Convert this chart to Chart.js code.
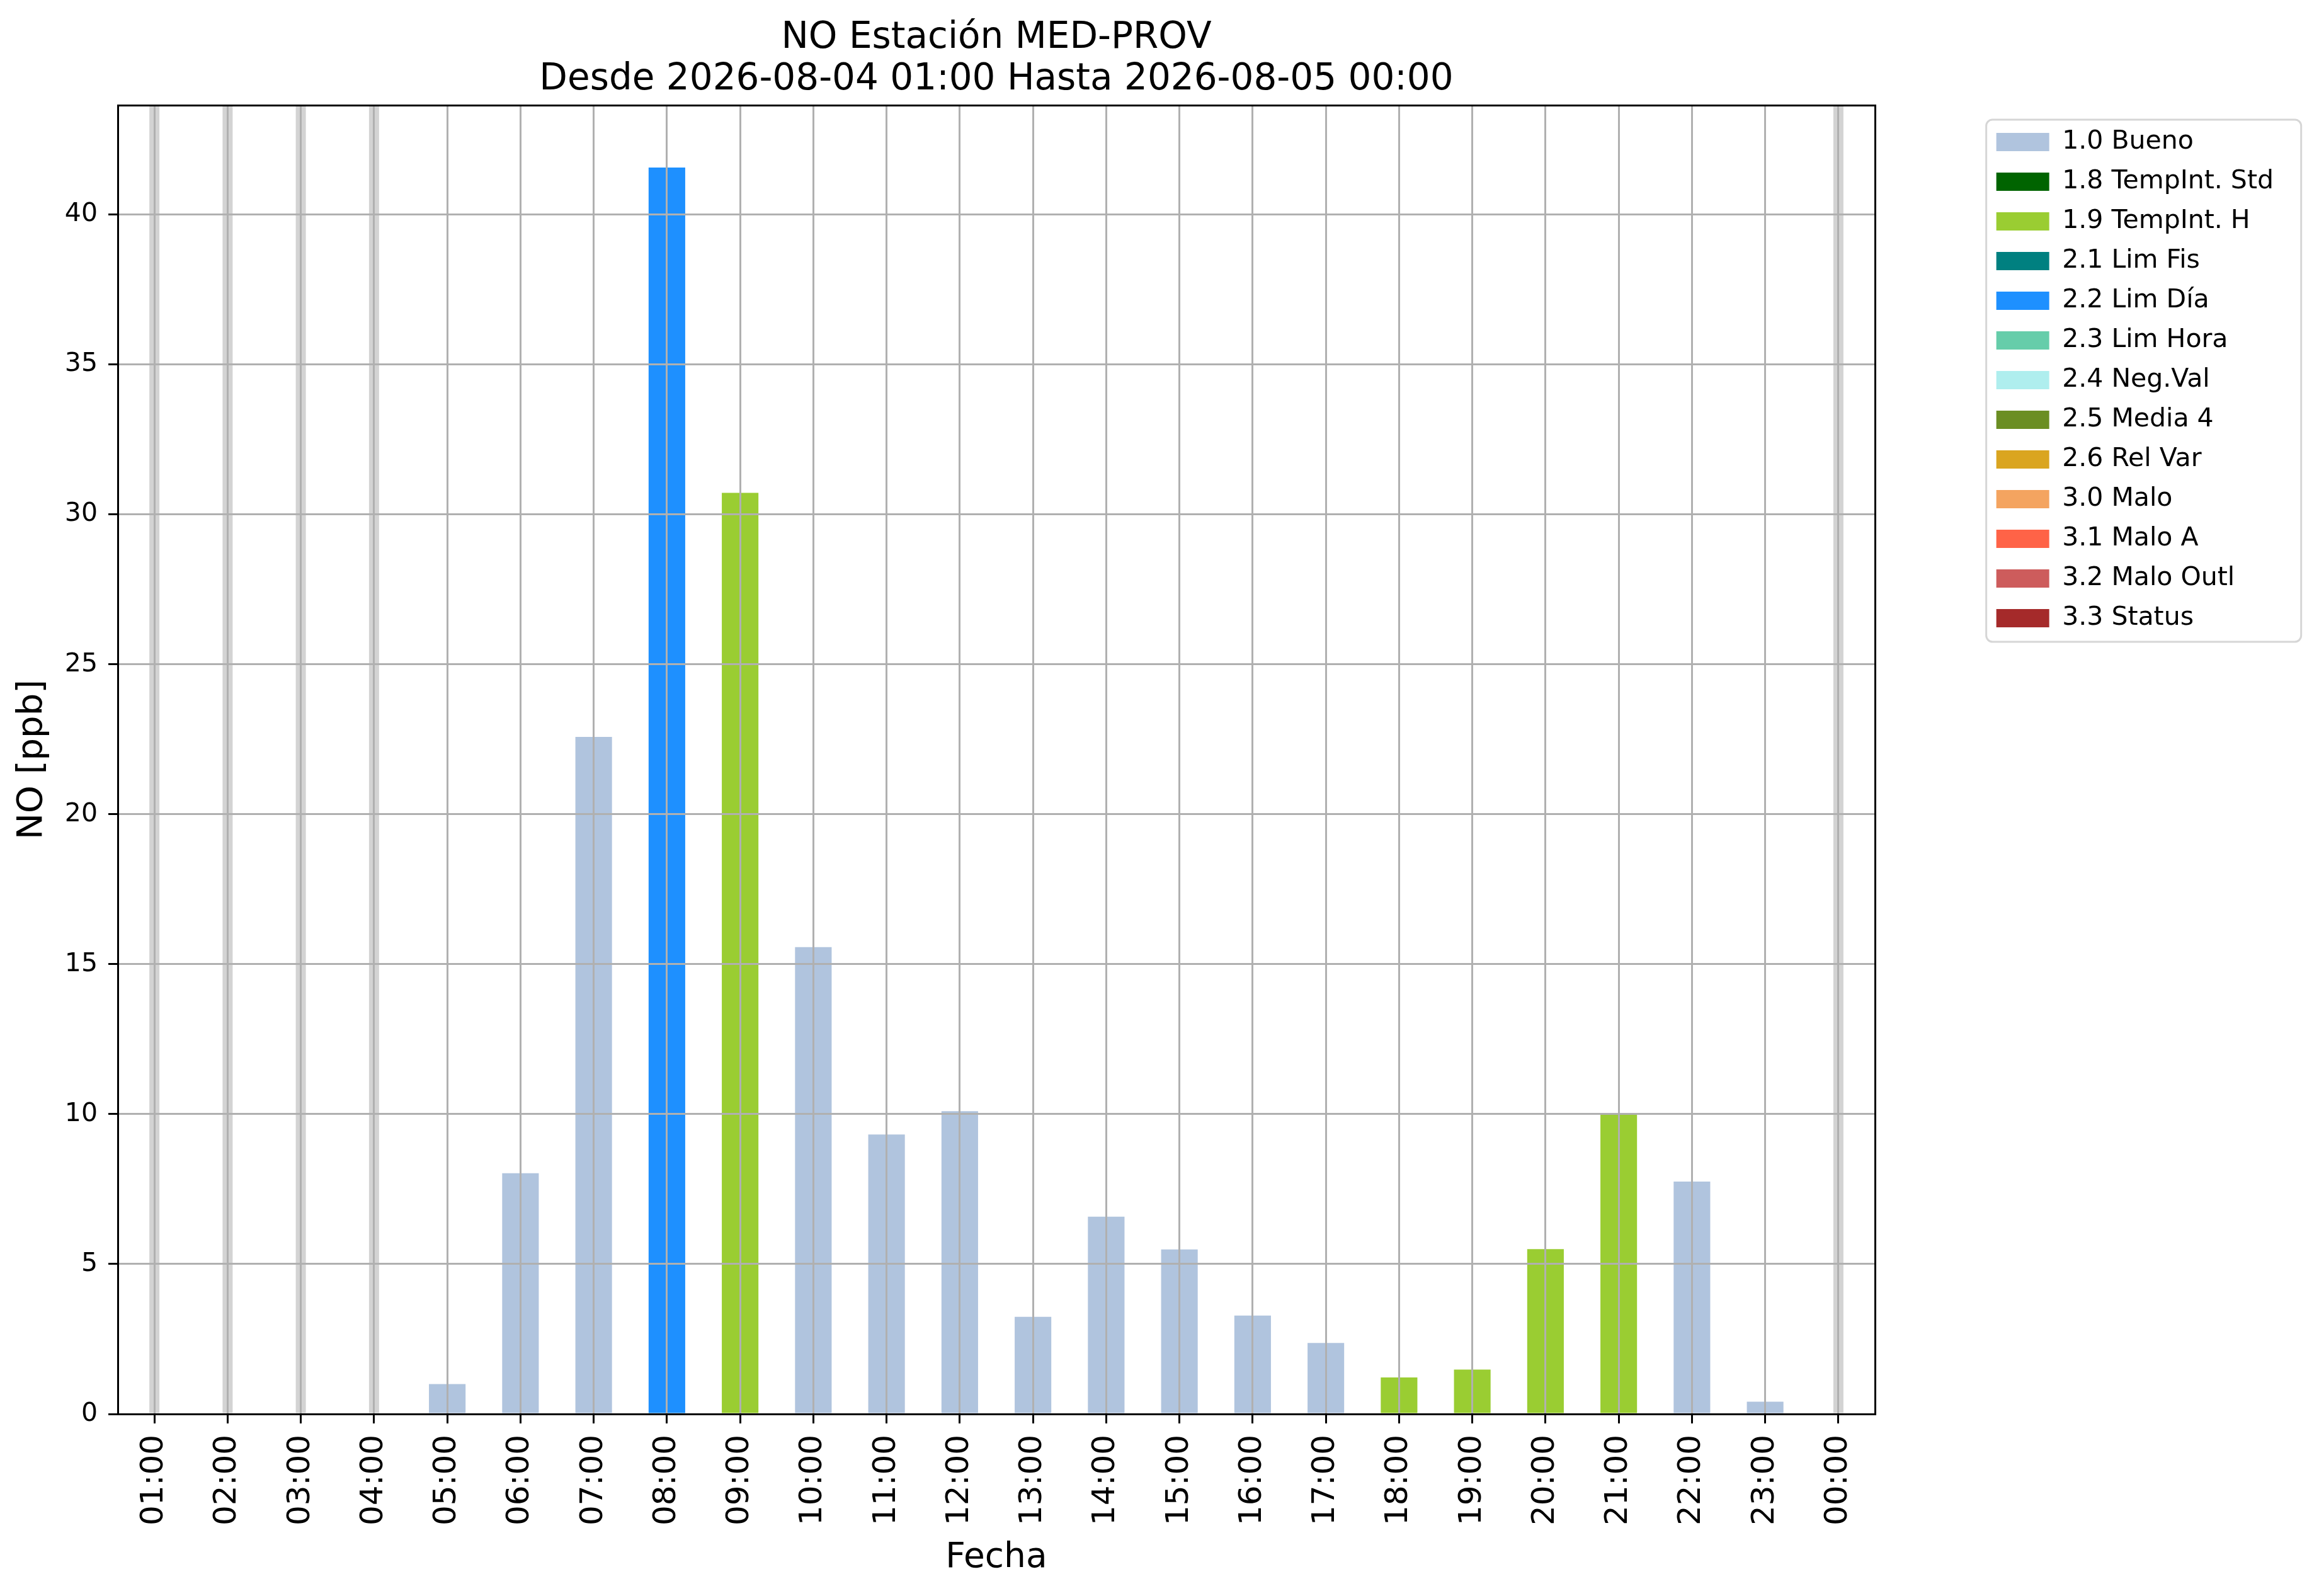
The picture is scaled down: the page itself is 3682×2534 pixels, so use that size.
<!DOCTYPE html>
<html>
<head>
<meta charset="utf-8">
<script src="https://cdn.jsdelivr.net/npm/chart.js@4.4.1/dist/chart.umd.min.js"></script>
<style>
  html, body { margin: 0; padding: 0; background: #ffffff; }
  canvas { display: block; }
</style>
</head>
<body>
<canvas id="c" width="3682" height="2534" style="width:3682px;height:2534px;"></canvas>
<script>
// ---- data ----
const hours = ['01:00','02:00','03:00','04:00','05:00','06:00','07:00','08:00','09:00','10:00','11:00','12:00',
               '13:00','14:00','15:00','16:00','17:00','18:00','19:00','20:00','21:00','22:00','23:00','00:00'];
const noValues = [null, null, null, null, 1.00, 8.03, 22.58, 41.57, 30.72, 15.57, 9.32, 10.10,
                  3.24, 6.58, 5.49, 3.28, 2.37, 1.22, 1.48, 5.50, 9.98, 7.75, 0.41, null];
const flagCodes = [null, null, null, null, '1.0', '1.0', '1.0', '2.2', '1.9', '1.0', '1.0', '1.0',
                   '1.0', '1.0', '1.0', '1.0', '1.0', '1.9', '1.9', '1.9', '1.9', '1.0', '1.0', null];
const missingHours = ['01:00', '02:00', '03:00', '04:00', '00:00'];
const flagLabels = ['1.0 Bueno', '1.8 TempInt. Std', '1.9 TempInt. H', '2.1 Lim Fis', '2.2 Lim Día',
                    '2.3 Lim Hora', '2.4 Neg.Val', '2.5 Media 4', '2.6 Rel Var', '3.0 Malo',
                    '3.1 Malo A', '3.2 Malo Outl', '3.3 Status'];
const flagColors = ['#b0c4de', '#006400', '#9acd32', '#008080', '#1e90ff', '#66cdaa', '#afeeee',
                    '#6b8e23', '#daa520', '#f4a460', '#ff6347', '#cd5c5c', '#a52a2a'];
const yTop = 43.65;
const titleLines = ['NO Estación MED-PROV', 'Desde 2026-08-04 01:00 Hasta 2026-08-05 00:00'];

// ---- layout constants (pixels) ----
const FONT = 'DejaVu Sans';
const PLOT_LEFT = 187, PLOT_RIGHT = 2977, PLOT_BOTTOM = 2245;
const PAD_RIGHT = 62;

const datasets = [];
datasets.push({
  label: '__missing',
  data: hours.map(h => missingHours.includes(h) ? yTop : null),
  backgroundColor: '#d3d3d3',
  borderColor: '#d3d3d3',
  borderWidth: 0,
  barPercentage: 0.1376,
  categoryPercentage: 1.0
});
flagLabels.forEach((lab, k) => {
  const code = lab.split(' ')[0];
  datasets.push({
    label: lab,
    data: noValues.map((v, i) => flagCodes[i] === code ? v : null),
    backgroundColor: flagColors[k],
    borderColor: flagColors[k],
    borderWidth: 0,
    barPercentage: 0.5,
    categoryPercentage: 1.0
  });
});

const legendFrame = {
  id: 'legendFrame',
  afterDraw(chart) {
    const lg = chart.legend;
    if (!lg || !lg.legendHitBoxes || !lg.legendHitBoxes.length) return;
    const hb = lg.legendHitBoxes;
    const first = hb[0], last = hb[hb.length - 1];
    const x = first.left - 16, y = first.top - 15;
    const w = 500, h = (last.top + last.height + 17) - y;
    const ctx = chart.ctx;
    ctx.save();
    ctx.strokeStyle = '#d6d6d6';
    ctx.lineWidth = 3;
    const r = 10;
    ctx.beginPath();
    ctx.moveTo(x + r, y);
    ctx.lineTo(x + w - r, y);
    ctx.arcTo(x + w, y, x + w, y + r, r);
    ctx.lineTo(x + w, y + h - r);
    ctx.arcTo(x + w, y + h, x + w - r, y + h, r);
    ctx.lineTo(x + r, y + h);
    ctx.arcTo(x, y + h, x, y + h - r, r);
    ctx.lineTo(x, y + r);
    ctx.arcTo(x, y, x + r, y, r);
    ctx.closePath();
    ctx.stroke();
    ctx.restore();
  }
};

Chart.defaults.font.family = FONT;
Chart.defaults.color = '#000000';

new Chart(document.getElementById('c'), {
  type: 'bar',
  data: { labels: hours, datasets: datasets },
  plugins: [legendFrame],
  options: {
    responsive: false,
    devicePixelRatio: 1,
    animation: false,
    layout: { padding: { left: 0, top: 0, right: PAD_RIGHT, bottom: 0 } },
    datasets: { bar: { grouped: false } },
    plugins: {
      tooltip: { enabled: false },
      title: {
        display: true,
        fullSize: false,
        text: titleLines,
        color: '#000000',
        font: { family: FONT, size: 58, weight: 'normal', lineHeight: 1.138 },
        padding: { top: 28, bottom: 7 }
      },
      legend: {
        display: true,
        position: 'right',
        align: 'start',
        title: { display: true, text: '', font: { size: 10, lineHeight: 1 }, padding: { top: 173, bottom: 0 } },
        labels: {
          boxWidth: 84,
          boxHeight: 29,
          padding: 22,
          color: '#000000',
          font: { family: FONT, size: 41 },
          filter: (item) => item.text !== '__missing'
        }
      }
    },
    scales: {
      x: {
        type: 'category',
        position: 'bottom',
        offset: true,
        afterFit: (s) => { s.height = 2534 - PLOT_BOTTOM; },
        grid: {
          display: true, offset: false, z: 1,
          color: '#b0b0b0', lineWidth: 3,
          drawTicks: true, tickLength: 15, tickColor: '#000000', tickWidth: 3
        },
        border: { display: true, color: '#000000', width: 3, z: 2 },
        ticks: {
          autoSkip: false, maxRotation: 90, minRotation: 90, padding: 18,
          color: '#000000', font: { family: FONT, size: 50 }
        },
        title: {
          display: true, text: 'Fecha', color: '#000000',
          font: { family: FONT, size: 55, lineHeight: 1.2 },
          padding: { top: 0, bottom: 27 }
        }
      },
      y: {
        type: 'linear',
        position: 'left',
        min: 0,
        max: yTop,
        afterFit: (s) => { s.width = PLOT_LEFT; },
        grid: {
          display: true, z: 1,
          color: '#b0b0b0', lineWidth: 3,
          drawTicks: true, tickLength: 15, tickColor: '#000000', tickWidth: 3
        },
        border: { display: true, color: '#000000', width: 3, z: 2 },
        ticks: {
          stepSize: 5, includeBounds: false, padding: 17,
          color: '#000000', font: { family: FONT, size: 41 }
        },
        title: {
          display: true, text: 'NO [ppb]', color: '#000000',
          font: { family: FONT, size: 56, lineHeight: 1.2 },
          padding: { top: 18, bottom: 0 }
        }
      },
      y2: {
        type: 'linear',
        position: 'right',
        afterFit: (s) => {
          const lw = (s.chart.legend && s.chart.legend.width) ? s.chart.legend.width : 470;
          s.width = Math.max(0, s.chart.width - PAD_RIGHT - lw - PLOT_RIGHT);
        },
        grid: { display: true, drawOnChartArea: false, drawTicks: false },
        border: { display: true, color: '#000000', width: 3, z: 2 },
        ticks: { display: false }
      },
      x2: {
        type: 'linear',
        position: 'top',
        afterFit: (s) => { s.height = 0; },
        grid: { display: true, drawOnChartArea: false, drawTicks: false },
        border: { display: true, color: '#000000', width: 3, z: 2 },
        ticks: { display: false }
      }
    }
  }
});
</script>
</body>
</html>
